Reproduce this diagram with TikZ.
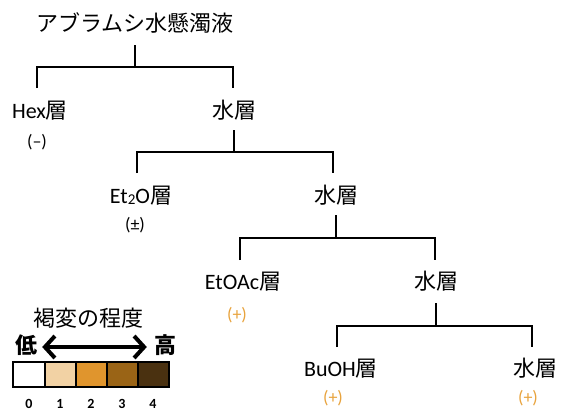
\documentclass[tikz,border=0pt]{standalone}
\usepackage{fontspec}
\setmainfont{Carlito}
\newfontfamily\jp{Noto Sans CJK JP}
\newcommand{\sou}{{\jp 層}}
\usetikzlibrary{arrows.meta}
\definecolor{plus}{HTML}{E8A33D}
\definecolor{brA}{HTML}{F2D2A4}
\definecolor{brB}{HTML}{E0952D}
\definecolor{brC}{HTML}{9A6416}
\definecolor{brD}{HTML}{4A3110}
\tikzset{
  lbl/.style={font=\fontsize{22}{24}\selectfont,inner sep=0pt,text height=16pt,text depth=4pt},
  sgn/.style={font=\fontsize{18}{20}\selectfont,inner sep=0pt},
  tree/.style={line width=2.5pt},
  num/.style={font=\bfseries\fontsize{14}{16}\selectfont,inner sep=0pt}
}
\begin{document}
\begin{tikzpicture}[x=1pt,y=-1pt]
\useasboundingbox(0,0) rectangle (561,412);
\node[lbl](top) at (135,25){\jp アブラムシ水懸濁液};
\node[lbl](hex) at (40,112){Hex\sou};
\node[lbl](aq1) at (234,112){\jp 水層};
\node[lbl](eto) at (141,197){Et\raisebox{-1pt}{\fontsize{15}{15}\selectfont 2}O\sou};
\node[lbl](aq2) at (336,197){\jp 水層};
\node[lbl](eac) at (243,283){EtOAc\sou};
\node[lbl](aq3) at (436,283){\jp 水層};
\node[lbl](bu) at (341,370){BuOH\sou};
\node[lbl](aq4) at (535,370){\jp 水層};
\node[sgn](hexs) at (37,142){(–)};
\node[sgn](etos) at (135,225){(±)};
\node[sgn,plus](eacs) at (237,315){(+)};
\node[sgn,plus](bus) at (333,398){(+)};
\node[sgn,plus](aq4s) at (528,398){(+)};
% tree
\coordinate(j1) at (top.south |- 0,67);
\coordinate(j2) at (aq1.south |- 0,152);
\coordinate(j3) at (aq2.south |- 0,238);
\coordinate(j4) at (aq3.south |- 0,326);
\draw[tree](top.south)++(0,-10pt)--(j1);
\draw[tree](37,88)|-(j1)-|(233,88);
\draw[tree](aq1.south)++(0,-8pt)--(j2);
\draw[tree](137,173)|-(j2)-|(333,173);
\draw[tree](aq2.south)++(0,-8pt)--(j3);
\draw[tree](240,260)|-(j3)-|(435,260);
\draw[tree](aq3.south)++(0,-10pt)--(j4);
\draw[tree](337,347)|-(j4)-|(532,347);
% legend
\node[lbl](leg) at (88,320){\jp 褐変の程度};
\node[lbl,font=\jp\bfseries\fontsize{22}{24}\selectfont](lo) at (26,347){低};
\node[lbl,font=\jp\bfseries\fontsize{22}{24}\selectfont](hi) at (165,347){高};
\draw[line width=4pt,{Straight Barb[length=10pt,width=22pt]}-{Straight Barb[length=10pt,width=22pt]}](lo.east)++(5pt,0)--([xshift=-7pt]hi.west);
\draw[line width=2.5pt,fill=white](13,362) rectangle (45,387);
\draw[line width=2.5pt,fill=brA](45,362) rectangle (76,387);
\draw[line width=2.5pt,fill=brB](76,362) rectangle (107,387);
\draw[line width=2.5pt,fill=brC](107,362) rectangle (138,387);
\draw[line width=2.5pt,fill=brD](138,362) rectangle (169,387);
\node[num](n0) at (29,404){0};
\node[num](n1) at (60,404){1};
\node[num](n2) at (91,404){2};
\node[num](n3) at (122,404){3};
\node[num](n4) at (153,404){4};
\end{tikzpicture}
\end{document}
